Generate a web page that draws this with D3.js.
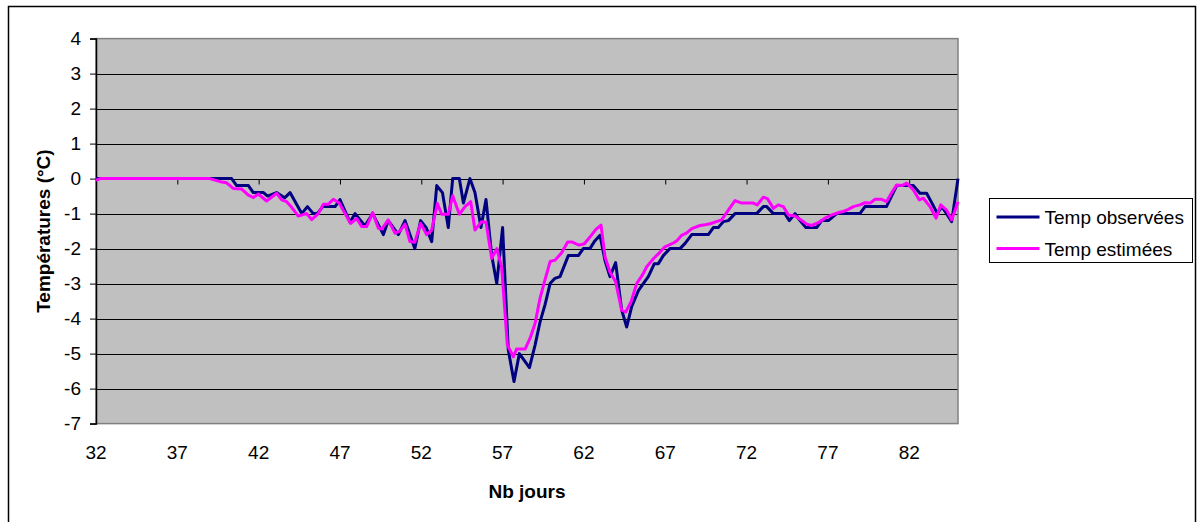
<!DOCTYPE html>
<html><head><meta charset="utf-8">
<script src="https://cdn.jsdelivr.net/npm/d3@7"></script>
<style>
body{margin:0;background:#fff}
text{font-family:"Liberation Sans",Arial,sans-serif;fill:#000}
</style>
</head><body>
<svg id="c" width="1198" height="522"></svg>
<script>
const obsDays = [32,40.34,40.65,41.37,41.67,42.3,42.55,43.1,43.6,43.93,44.65,45.0,45.36,45.61,45.94,46.7,47.0,47.62,47.93,48.54,49.01,49.67,49.97,50.59,51.0,51.6,51.96,52.3,52.64,52.95,53.3,53.66,53.93,54.34,54.59,54.99,55.3,55.67,55.98,56.33,56.64,57.0,57.35,57.7,58.03,58.65,59.0,59.3,59.61,59.92,60.22,60.53,61.04,61.66,61.96,62.37,62.64,62.99,63.3,63.6,63.95,64.32,64.63,64.94,65.35,65.65,65.96,66.33,66.58,66.88,67.29,67.91,68.22,68.63,69.65,69.96,70.26,70.57,70.88,71.29,72.62,73.03,73.24,73.65,74.36,74.63,74.98,75.29,75.65,76.31,76.62,77.03,77.54,78.97,79.28,80.6,81.23,82.25,82.66,83.07,83.4,83.73,84.0,84.3,84.61,85.0];
const obsTemps = [0,0,-0.2,-0.2,-0.4,-0.4,-0.5,-0.4,-0.55,-0.4,-1.0,-0.8,-1.0,-1.0,-0.8,-0.8,-0.6,-1.25,-1.0,-1.35,-1.0,-1.6,-1.2,-1.6,-1.2,-2.0,-1.2,-1.4,-1.8,-0.2,-0.4,-1.4,0,0,-0.7,0,-0.4,-1.4,-0.6,-2.2,-3.0,-1.4,-4.9,-5.8,-5.0,-5.4,-4.75,-4.1,-3.6,-3.0,-2.85,-2.8,-2.2,-2.2,-2.0,-2.0,-1.8,-1.62,-2.35,-2.8,-2.4,-3.75,-4.24,-3.65,-3.2,-3.0,-2.8,-2.43,-2.43,-2.2,-2.0,-2.0,-1.85,-1.6,-1.6,-1.4,-1.4,-1.23,-1.2,-1.0,-1.0,-0.8,-0.8,-1.0,-1.0,-1.2,-1.0,-1.2,-1.4,-1.4,-1.2,-1.2,-1.0,-1.0,-0.8,-0.8,-0.2,-0.2,-0.42,-0.42,-0.7,-1.0,-0.8,-1.0,-1.23,0];

const estDays = [32,32.25,39.0,39.73,40.03,40.44,40.96,41.37,41.67,41.98,42.49,43.11,43.42,43.72,44.03,44.44,44.95,45.26,45.67,45.98,46.29,46.59,46.96,47.31,47.66,48.03,48.33,48.64,49.01,49.36,49.57,49.97,50.38,50.69,51.0,51.3,51.6,51.96,52.33,52.64,52.99,53.25,53.66,53.93,54.34,54.69,55.04,55.3,55.7,55.98,56.33,56.64,56.94,57.29,57.66,57.86,58.38,58.69,59.0,59.3,59.6,59.92,60.22,60.63,61.0,61.25,61.7,62.03,62.37,62.72,63.05,63.3,63.6,63.95,64.32,64.57,64.9,65.24,65.59,65.86,66.27,66.68,66.98,67.5,67.7,68.01,68.32,68.63,69.14,69.45,69.75,69.96,70.47,70.88,71.29,71.7,72.42,72.66,73.03,73.28,73.65,73.95,74.26,74.57,74.98,75.29,75.7,76.0,76.41,76.82,77.23,77.64,77.95,78.26,78.57,78.97,79.28,79.6,79.9,80.3,80.6,80.9,81.23,81.55,81.85,82.25,82.62,82.87,83.28,83.65,83.94,84.3,84.61,85.0];
const estTemps = [-0.05,0,0,-0.1,-0.12,-0.28,-0.3,-0.47,-0.54,-0.44,-0.64,-0.42,-0.61,-0.66,-0.82,-1.07,-1.0,-1.17,-1.0,-0.73,-0.73,-0.59,-0.7,-1.0,-1.28,-1.14,-1.37,-1.37,-0.97,-1.42,-1.44,-1.18,-1.56,-1.5,-1.3,-1.8,-1.82,-1.28,-1.6,-1.47,-0.71,-1.02,-1.02,-0.49,-1.02,-0.8,-0.66,-1.47,-1.23,-1.25,-2.28,-2.0,-2.52,-4.75,-5.09,-4.87,-4.87,-4.56,-4.13,-3.42,-2.9,-2.37,-2.33,-2.12,-1.81,-1.81,-1.9,-1.86,-1.67,-1.46,-1.33,-2.24,-2.67,-2.95,-3.76,-3.81,-3.52,-3.0,-2.76,-2.52,-2.29,-2.1,-1.95,-1.84,-1.78,-1.62,-1.55,-1.43,-1.34,-1.32,-1.29,-1.26,-1.18,-0.9,-0.63,-0.7,-0.7,-0.75,-0.53,-0.57,-0.85,-0.75,-0.8,-1.04,-1.07,-1.16,-1.3,-1.34,-1.26,-1.13,-1.04,-0.97,-0.94,-0.88,-0.8,-0.75,-0.69,-0.7,-0.59,-0.59,-0.66,-0.42,-0.18,-0.2,-0.13,-0.32,-0.61,-0.56,-0.8,-1.13,-0.75,-0.9,-1.18,-0.66];

const xTickValues = [32,37,42,47,52,57,62,67,72,77,82];
const yTickValues = [-7,-6,-5,-4,-3,-2,-1,0,1,2,3,4];
const seriesNames = ["Temp observées","Temp estimées"];
const seriesColors = ["#000080","#FF00FF"];
const xTitle = "Nb jours";
const yTitle = "Températures (°C)";

const svg = d3.select("#c");
const x = d3.scaleLinear().domain([32,85]).range([96,958]);
const y = d3.scaleLinear().domain([-7,4]).range([423.6,38.6]);

// chart area border
svg.append("rect").attr("x",8.5).attr("y",6.5).attr("width",1187).attr("height",520)
  .attr("fill","#fff").attr("stroke","#000").attr("stroke-width",1.5);

// plot area
svg.append("rect").attr("x",x(32)).attr("y",y(4)).attr("width",x(85)-x(32)).attr("height",y(-7)-y(4))
  .attr("fill","#C0C0C0");

// gridlines
svg.append("g").selectAll("line").data(yTickValues.filter(v=>v>-7&&v<4)).join("line")
  .attr("x1",x(32)).attr("x2",x(85)).attr("y1",d=>Math.round(y(d))+0.5).attr("y2",d=>Math.round(y(d))+0.5)
  .attr("stroke","#000").attr("stroke-width",1);

// plot border
svg.append("rect").attr("x",x(32)).attr("y",y(4)).attr("width",x(85)-x(32)).attr("height",y(-7)-y(4))
  .attr("fill","none").attr("stroke","#808080").attr("stroke-width",1.5);

// y axis
const yAxis = d3.axisLeft(y).tickValues(yTickValues).tickSize(6).tickPadding(9).tickFormat(d3.format("d"));
const gy = svg.append("g").attr("transform",`translate(${x(32)},0)`).call(yAxis);
gy.select(".domain").attr("stroke","#000").attr("stroke-width",1.5);
gy.selectAll(".tick line").attr("stroke","#000");
gy.selectAll("text").style("font-size","19px").attr("fill","#000").text(d=>d<0?"-"+Math.abs(d):d);

// x axis at y=0
const xAxis = d3.axisBottom(x).tickValues(xTickValues).tickSize(5).tickFormat("");
const gx = svg.append("g").attr("transform",`translate(0,${Math.round(y(0))+0.5})`).call(xAxis);
gx.select(".domain").remove();
gx.selectAll(".tick line").attr("stroke","#000");

// x labels (low position)
svg.append("g").selectAll("text").data(xTickValues).join("text")
  .attr("x",d=>x(d)).attr("y",459).attr("text-anchor","middle").style("font-size","19px").text(d=>d);

// lines
const line = d3.line().x(d=>x(d[0])).y(d=>y(d[1]));
const obs = obsDays.map((d,i)=>[d,obsTemps[i]]);
const est = estDays.map((d,i)=>[d,estTemps[i]]);
svg.append("path").datum(obs).attr("d",line).attr("fill","none").attr("stroke",seriesColors[0])
  .attr("stroke-width",3).attr("stroke-linejoin","round");
svg.append("path").datum(est).attr("d",line).attr("fill","none").attr("stroke",seriesColors[1])
  .attr("stroke-width",3).attr("stroke-linejoin","round");

// titles
svg.append("text").attr("x",(x(32)+x(85))/2).attr("y",498).attr("text-anchor","middle")
  .style("font-size","19px").style("font-weight","bold").text(xTitle);
svg.append("text").attr("transform",`translate(50,${(y(4)+y(-7))/2}) rotate(-90)`).attr("text-anchor","middle")
  .style("font-size","19px").style("font-weight","bold").text(yTitle);

// legend
const lg = svg.append("g").attr("transform","translate(989.5,198.5)");
lg.append("rect").attr("width",203).attr("height",64).attr("fill","#fff").attr("stroke","#000").attr("stroke-width",1);
seriesNames.forEach((n,i)=>{
  const yy = 18.5 + i*31.5;
  lg.append("line").attr("x1",7).attr("x2",50).attr("y1",yy).attr("y2",yy).attr("stroke",seriesColors[i]).attr("stroke-width",3);
  lg.append("text").attr("x",55).attr("y",yy+7).style("font-size","19px").text(n);
});
</script>
</body></html>
